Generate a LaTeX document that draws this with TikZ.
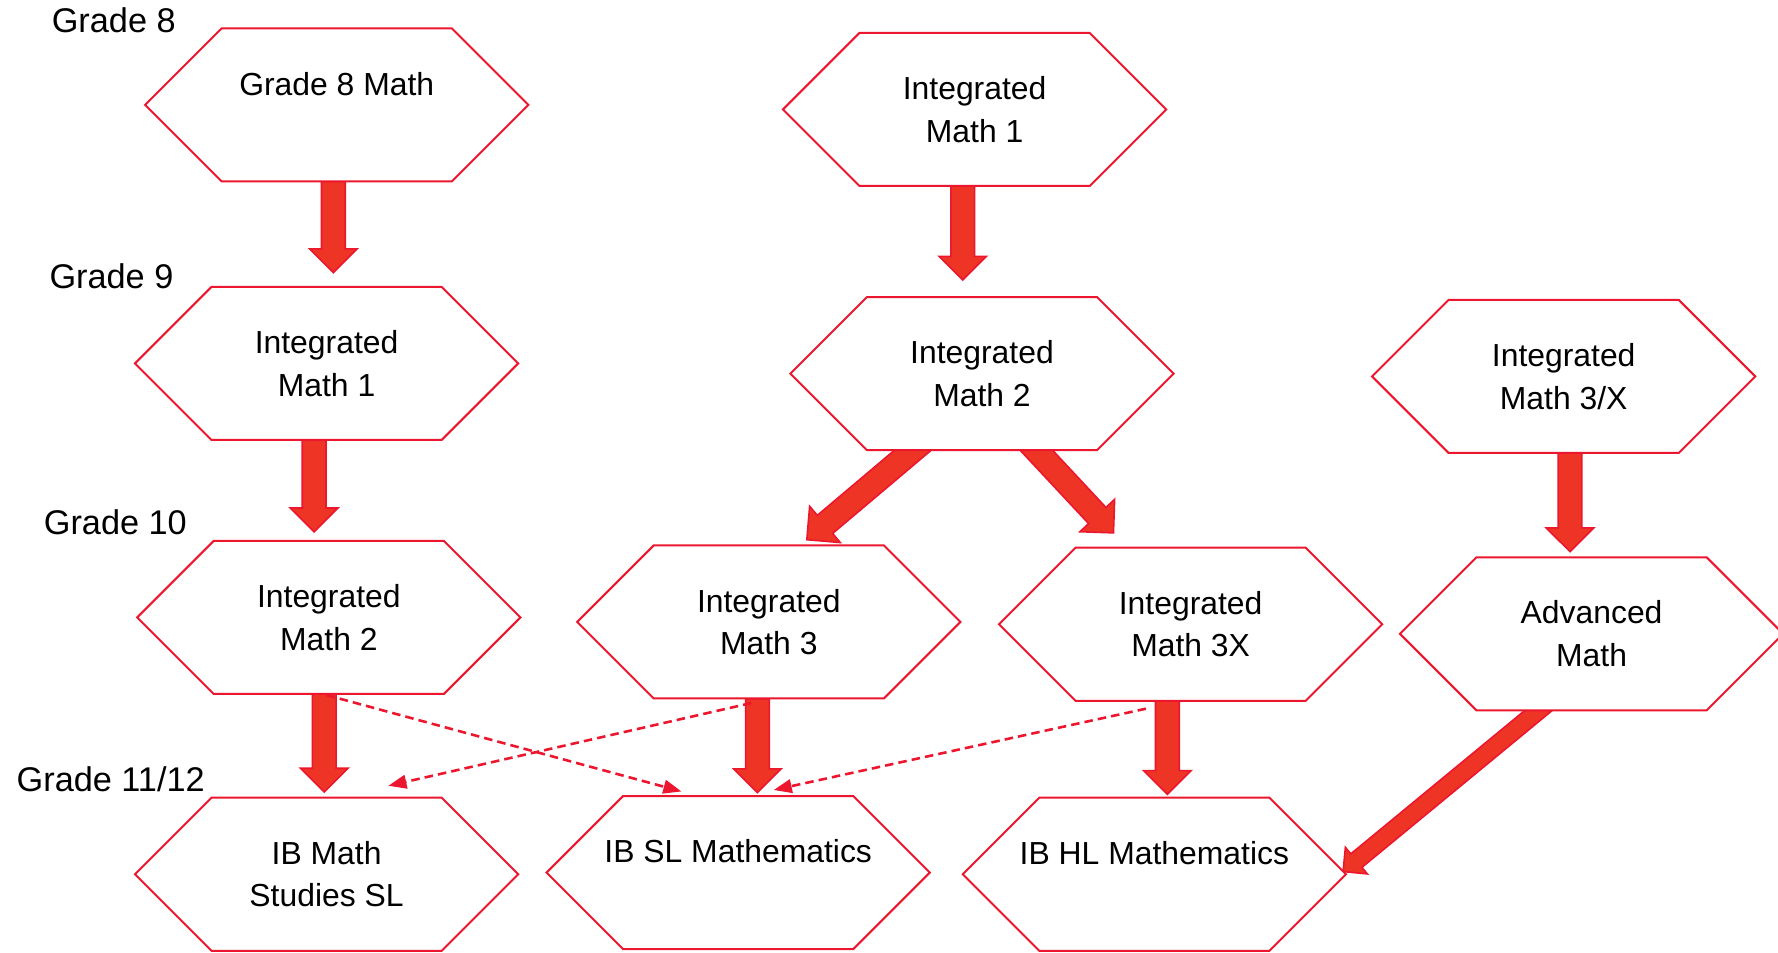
\documentclass[tikz,border=0pt]{standalone}
\usepackage{fontspec}
\setmainfont{Liberation Sans}
\usetikzlibrary{shapes.symbols,shapes.arrows,arrows.meta,calc,backgrounds}
\definecolor{hexred}{RGB}{236,22,46}
\definecolor{arrowfill}{RGB}{238,52,36}
% two centred lines that do not widen the hexagon
\newcommand\hextext[2]{\makebox[0pt]{#1}\\\makebox[0pt]{#2}}
\tikzset{
  hexbox/.style={signal, signal to=east and west, signal pointer angle=90,
    draw=hexred, fill=white, line width=0.5pt, minimum width=33.8mm, minimum height=13.5mm,
    inner sep=0pt, outer sep=0pt, align=center, font=\fontsize{8}{10.7}\selectfont},
  gradelabel/.style={anchor=base west, inner sep=0pt, font=\fontsize{8.6}{10}\selectfont},
  bigarrow/.style={single arrow, draw=hexred, fill=arrowfill, line width=0.4pt,
    inner xsep=0pt, inner ysep=0.975mm, outer sep=0pt,
    single arrow head extend=1.05mm, single arrow tip angle=90},
  thinarrow/.style={bigarrow, inner ysep=0.7mm, single arrow head extend=0.75mm},
  blockarrow/.style={to path={let \p1=(\tikztostart), \p2=(\tikztotarget),
    \n1={atan2(\y2-\y1,\x2-\x1)}, \n2={veclen(\x2-\x1,\y2-\y1)} in
    node[#1, minimum height=\n2, rotate=\n1, anchor=tail] at (\p1) {}}},
  blockarrow/.default=bigarrow,
  dasharrow/.style={draw=hexred, line width=0.65pt, dash pattern=on 0.75mm off 0.45mm,
    -{Triangle[length=1.6mm,width=1.2mm]}},
}
\begin{document}
\begin{tikzpicture}[x=0.1mm, y=-0.1mm]
  \useasboundingbox (0,0) rectangle (1568,840);
  % grade labels
  \node[gradelabel] (grade8) at (45,29) {Grade 8};
  \node[gradelabel] (grade9) at (43,254) {Grade 9};
  \node[gradelabel] (grade10) at (38,471) {Grade 10};
  \node[gradelabel] (grade1112) at (14,698) {Grade 11/12};
  % courses
  \node[hexbox] (g8math) at (297,92.5) {\hextext{Grade 8 Math}{\phantom{M}}};
  \node[hexbox] (imA1) at (859.5,96.5) {\hextext{Integrated}{Math 1}};
  \node[hexbox] (imB1) at (288,320.5) {\hextext{Integrated}{Math 1}};
  \node[hexbox] (imA2) at (866,329.5) {\hextext{Integrated}{Math 2}};
  \node[hexbox] (imA3x) at (1379,332) {\hextext{Integrated}{Math 3/X}};
  \node[hexbox] (imB2) at (290,544.5) {\hextext{Integrated}{Math 2}};
  \node[hexbox] (imA3) at (678,548.5) {\hextext{Integrated}{Math 3}};
  \node[hexbox] (imA3X) at (1050,550.5) {\hextext{Integrated}{Math 3X}};
  \node[hexbox] (advmath) at (1403.6,559) {\hextext{Advanced}{Math}};
  \node[hexbox] (ibstudies) at (288,771) {\hextext{IB Math}{Studies SL}};
  \node[hexbox] (ibsl) at (651,769.5) {\hextext{IB SL Mathematics}{\phantom{M}}};
  \node[hexbox] (ibhl) at (1018,771) {\hextext{IB HL Mathematics}{\phantom{M}}};
  % block arrows, tails hidden under the hexagons
  \begin{scope}[on background layer]
  \path ($(g8math.south)+(-3,0)$) to[blockarrow] ($(imB1.north)+(6,-12.5)$);
  \path ($(imA1.south)+(-10.5,0)$) to[blockarrow] ($(imA2.north)+(-17,-15)$);
  \path ($(imB1.south)+(-11,0)$) to[blockarrow] ($(imB2.north)+(-13,-8)$);
  \path ($(imA2.south)+(-46.7,-12)$) to[blockarrow] ($(imA3.north)+(33.5,-5)$);
  \path ($(imA2.south)+(36.7,-12)$) to[blockarrow] ($(imA3X.north)+(-68,-13)$);
  \path ($(imA3x.south)+(5.5,0)$) to[blockarrow] ($(advmath.north)+(-19,-5)$);
  \path ($(imB2.south)+(-4,0)$) to[blockarrow] ($(ibstudies.north)+(-2,-5)$);
  \path ($(imA3.south)+(-10,0)$) to[blockarrow] ($(ibsl.north)+(17,-3)$);
  \path ($(imA3X.south)+(-20.5,0)$) to[blockarrow] ($(ibhl.north)+(11.5,-3)$);
  \path ($(advmath.south)+(-34.6,-10)$) to[blockarrow=thinarrow] ($(ibhl.east)+(-3,-2)$);
  \end{scope}
  % dashed arrows
  \draw[dasharrow] ($(imB2.south)+(-2,1)$) -- ($(ibsl.north)+(-50,-4)$);
  \draw[dasharrow] ($(imA3.south)+(-15.4,4)$) -- ($(ibstudies.north)+(54.5,-10.5)$);
  \draw[dasharrow] ($(imA3X.south)+(-39.4,7)$) -- ($(ibsl.north)+(31.3,-5.3)$);
\end{tikzpicture}
\end{document}
